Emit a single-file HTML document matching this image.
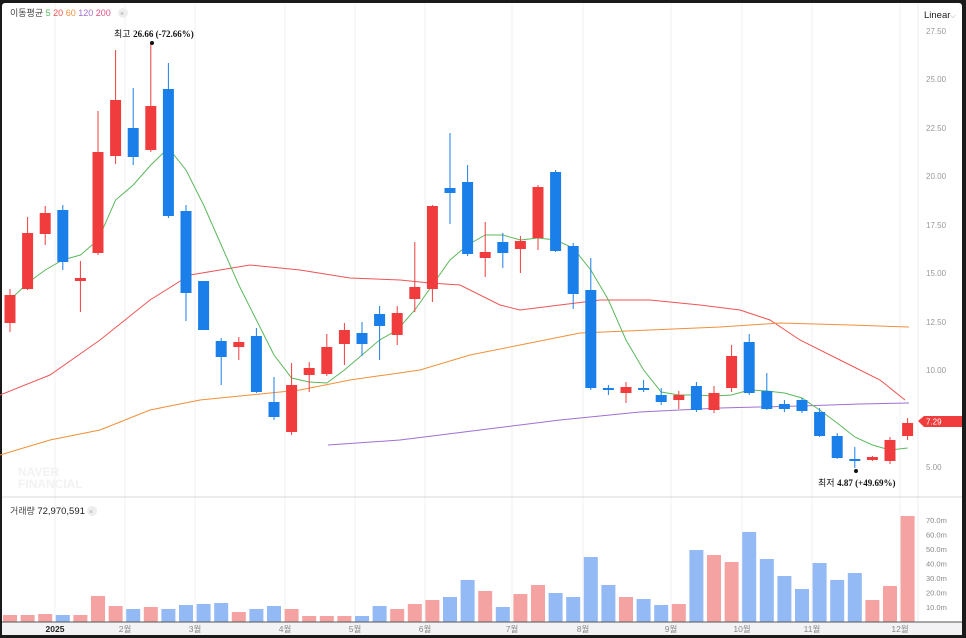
<!DOCTYPE html>
<html><head><meta charset="utf-8"><style>
html,body{margin:0;padding:0;background:#1a1a1a;}
#w{position:relative;width:966px;height:638px;overflow:hidden;background:#1a1a1a;}
svg{position:absolute;left:0;top:0;}
text{font-family:"Liberation Sans","Noto Sans CJK KR",sans-serif;}
</style></head><body><div id="w"><svg id="s" width="966" height="638" xmlns="http://www.w3.org/2000/svg"></svg></div>
<script>
const s=document.getElementById('s');let h='';
h+='<rect x="2" y="3" width="960" height="632" rx="3" fill="#fff"/>';
const mx=[55,125,195,285,355,425,512,583,671,742,812,900];
mx.forEach(x=>h+=`<line x1="${x}" y1="3" x2="${x}" y2="622" stroke="#f2f2f2"/>`);
h+='<line x1="918" y1="3" x2="918" y2="622" stroke="#eee"/>';
h+='<line x1="2" y1="497" x2="962" y2="497" stroke="#d8d8d8"/>';
[[31,'27.50'],[79,'25.00'],[128,'22.50'],[176,'20.00'],[225,'17.50'],[273,'15.00'],[322,'12.50'],[370,'10.00'],[467,'5.00']].forEach(a=>h+=`<text x="926" y="${a[0]+3}" font-size="8" fill="#999">${a[1]}</text>`);
h+='<text x="924" y="18" font-size="9.5" fill="#222">Linear</text><text x="950" y="18" font-size="8" fill="#aaa">⌵</text>';
h+='<text x="10" y="16" font-size="9" fill="#444">이동평균 <tspan fill="#5cb85c">5</tspan> <tspan fill="#f05050">20</tspan> <tspan fill="#f0903a">60</tspan> <tspan fill="#a070d0">120</tspan> <tspan fill="#e05080">200</tspan></text><circle cx="123" cy="13" r="5" fill="#eee"/><text x="120" y="16" font-size="7" fill="#aaa">×</text>';
h+='<text x="18" y="476" font-size="12" font-weight="bold" fill="#f2f2f2">NAVER</text><text x="18" y="488" font-size="12" font-weight="bold" fill="#f2f2f2">FINANCIAL</text>';
const poly=(p,c)=>h+=`<polyline points="${p}" fill="none" stroke="${c}" stroke-width="1"/>`;
poly('0,395 50,375 100,340 150,300 190,275 250,265 300,270 350,278 400,280 430,283 460,285 500,305 520,310 560,305 600,300 650,300 700,305 740,310 770,320 800,340 850,365 880,380 905,400','#ee5555');
poly('0,455 50,440 100,430 150,410 200,400 250,395 300,390 350,380 420,370 470,355 520,345 580,333 650,330 720,327 780,323 850,325 909,327','#f0903a');
poly('328,445 400,440 480,430 560,420 640,412 720,408 800,406 860,404 909,403','#a070d0');
const g=[300,283,270,260,255,240,200,185,165,148,170,205,245,285,320,355,378,382,383,370,355,340,330,310,285,260,245,235,235,240,238,240,248,270,300,340,370,392,395,395,396,395,390,391,393,398,410,423,437,445,450,448];
poly(g.map((y,i)=>(10+i*17.6).toFixed(1)+','+y).join(' '),'#5cb85c');
const c=[[1,295,323,289,332,615],[1,233,289,217,290,615],[1,213,234,206,245,614],[0,210,262,205,270,615],[1,278,281,261,312,615],[1,152,253,111,255,596],[1,100,156,50,164,606],[0,128,157,88,165,609],[1,106,150,44,152,607],[0,89,216,63,218,609],[0,211,293,205,321,605],[0,281,330,281,330,604],[0,341,357,338,385,603],[1,342,347,337,360,612],[0,336,392,328,393,609],[0,402,417,377,420,606],[1,385,432,363,435,609],[1,368,375,362,392,616],[1,347,374,334,376,616],[1,330,344,323,365,616],[0,333,344,322,356,616],[0,314,326,306,360,606],[1,313,335,306,345,609],[1,287,299,242,312,604],[1,206,289,205,302,600],[0,188,193,133,224,597],[0,182,254,165,256,580],[1,252,258,222,277,591],[0,242,253,233,268,607],[1,241,249,236,273,594],[1,187,238,185,250,585],[0,172,251,170,252,593],[0,246,294,243,309,597],[0,290,388,258,390,557],[0,388,390,385,395,585],[1,387,393,382,403,597],[0,388,390,380,392,599],[0,395,402,388,405,605],[1,395,400,391,409,604],[0,386,410,382,412,550],[1,393,410,386,413,555],[1,356,388,345,392,562],[0,342,393,334,395,532],[0,391,409,373,410,559],[0,404,409,400,412,576],[0,400,411,398,413,589],[0,412,436,408,437,563],[0,436,458,433,459,580],[0,459,461,447,468,573],[1,457,460,456,461,600],[1,440,461,437,464,586],[1,423,436,418,440,516]];
c.forEach((d,i)=>{const x=10+i*17.6;const col=d[0]?'#f03c3c':'#1a7fe8';
h+=`<line x1="${x}" y1="${d[3]}" x2="${x}" y2="${d[4]}" stroke="${col}"/>`;
h+=`<rect x="${x-5.5}" y="${d[1]}" width="11" height="${Math.max(1.5,d[2]-d[1])}" fill="${col}"/>`;
h+=`<rect x="${x-7}" y="${d[5]}" width="14" height="${622-d[5]}" fill="${d[0]?'#f4a2a2':'#93baf5'}"/>`;});
h+='<text x="114" y="37" font-size="9" fill="#111">최고 <tspan font-family="Liberation Serif" font-weight="bold">26.66 (-72.66%)</tspan></text><circle cx="152" cy="43" r="2" fill="#111"/>';
h+='<text x="818" y="486" font-size="9" fill="#111">최저 <tspan font-family="Liberation Serif" font-weight="bold">4.87 (+49.69%)</tspan></text><circle cx="856" cy="471" r="2" fill="#111"/>';
h+='<path d="M918,421 L924,416 L962,416 L962,427 L924,427 Z" fill="#f03c3c"/><text x="926" y="424.5" font-size="8" fill="#fff">7.29</text>';
h+='<text x="10" y="514" font-size="9" fill="#444">거래량 <tspan fill="#222" font-size="9.5">72,970,591</tspan></text><circle cx="92" cy="511" r="5" fill="#eee"/><text x="89" y="514" font-size="7" fill="#aaa">×</text>';
['70.0m','60.0m','50.0m','40.0m','30.0m','20.0m','10.0m'].forEach((t,i)=>h+=`<text x="926" y="${523+i*14.5}" font-size="7.5" fill="#888">${t}</text>`);
h+='<rect x="2" y="622" width="960" height="13" fill="#f3f3f5"/><line x1="2" y1="622" x2="962" y2="622" stroke="#555"/>';
['2025','2월','3월','4월','5월','6월','7월','8월','9월','10월','11월','12월'].forEach((t,i)=>h+=`<text x="${mx[i]}" y="632" font-size="8.5" text-anchor="middle" fill="${i?'#888':'#222'}" ${i?'':'font-weight="bold"'}>${t}</text>`);
s.innerHTML=h;
</script></body></html>
